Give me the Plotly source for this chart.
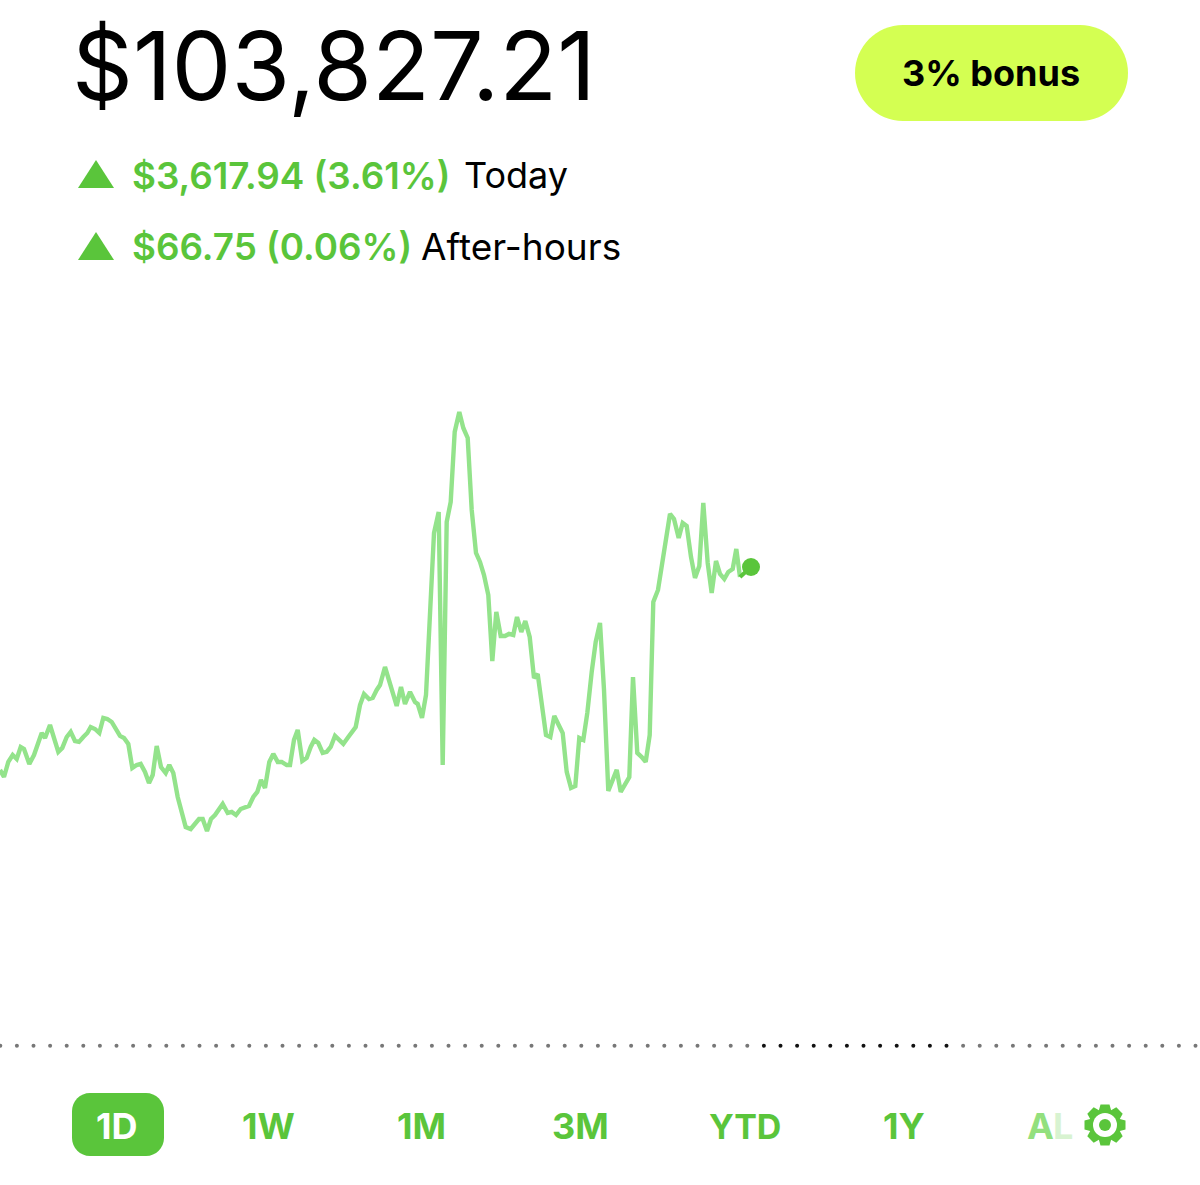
import numpy as np
import plotly.graph_objects as go

# portfolio value over the day
minute = [0,4,8.3,12.7,16.7,20.7,24,29.3,34,41.7,45,50,58.3,62.3,66.7,70.7,75,79,83.3,87.3,90.7,95,99.3,103.3,107.3,111.7,
          120,124,128.3,132.3,136.7,140.7,145,149,152.7,156.7,161,165.7,169.3,173.3,177.7,185.7,190.7,199,202.7,207,211,215,
          222.7,227.7,231.7,236,240.7,245,249,253.3,257.3,261,265,269.3,273.3,277.7,281.7,286.7,290,294,297.7,302.3,306.7,
          310.7,314.3,318.3,322.7,326.7,330.7,335,343.3,348.3,355.7,360,364,369,372.7,376.7,380,385,
          388.7,396.7,401,405,410,415,417.7,422,426,430,434,438.7,442.7,446.7,450.7,454.7,459.3,463.3,467.7,471.7,476,480,484,
          488.3,492.3,496.3,500.7,505,509,513.3,517,521.3,525.3,529.7,534,537.7,546,550.3,554.3,558.7,562.7,566.7,571,575.3,
          579.3,583.3,587.3,591.7,595.7,600,604,608.3,612.3,616.7,620.7,625,629.3,633,637.3,641.7,645.7,649.7,653.3,658,662,
          666,670,674,678.7,682.7,686.7,691,695,699.3,703.3,707.7,711.7,716,720,724.3,728.3,732.7,736.3,740]
balance = [102305,102252,102365,102417,102387,102477,102462,102350,102417,102582,102545,102642,102440,102470,102552,102590,
           102522,102515,102552,102582,102627,102612,102582,102695,102687,102665,102560,102545,102500,102320,102342,102350,
           102290,102207,102267,102485,102327,102282,102342,102282,102102,101877,101862,101937,101937,101847,101937,101967,
           102050,101982,101990,101967,102012,102020,102035,102102,102140,102230,102170,102365,102425,102365,102365,102342,
           102342,102530,102605,102372,102395,102477,102530,102507,102432,102440,102477,102560,102500,102552,102627,102792,
           102875,102837,102845,102905,102942,103077,
           102980,102785,102927,102800,102890,102815,102800,102695,102867,103430,104082,104240,102342,104165,104315,104840,
           104990,104870,104795,104255,103932,103865,103767,103617,103122,103490,103310,103310,103325,103317,103452,103340,
           103422,103302,102995,103025,102567,102552,102710,102642,102582,102290,102170,102185,102545,102530,102732,103040,
           103265,103407,102905,102147,102230,102305,102140,102192,102252,103002,102432,102402,102365,102567,103565,103655,
           103857,104015,104225,104187,104045,104157,104135,103902,103745,103835,104307,103857,103632,103872,103775,103737,
           103790,103812,103962,103752]
last_minute = 751
last_balance = 103827
prev_close = 100236

ranges = ["1D","1W","1M","3M","YTD","1Y"]
range_x = [117,268,421,580,745,904]
range_size = [36,36,36,36,34,36]

GREEN = "#5AC53B"
LINE = "#93E38B"
FONT = "Inter"

fig = go.Figure()
fig.add_trace(go.Scatter(x=minute, y=balance, mode="lines", line=dict(color=LINE, width=4.4), hoverinfo="skip"))
fig.add_trace(go.Scatter(x=[minute[-1], last_minute], y=[balance[-1], last_balance], mode="lines",
                         line=dict(color=GREEN, width=4), hoverinfo="skip"))
fig.add_trace(go.Scatter(x=[last_minute], y=[last_balance], mode="markers",
                         marker=dict(color=GREEN, size=18, opacity=1), hoverinfo="skip"))

# dotted previous close line, the stretch after hours is darker
dots = np.arange(0.3, 1200, 16.6)
dot_colors = ["#111111" if 760 < d < 950 else "#777777" for d in dots]
fig.add_trace(go.Scatter(x=dots, y=[prev_close]*len(dots), mode="markers",
                         marker=dict(color=dot_colors, size=4), hoverinfo="skip"))

def rounded(x0, y0, x1, y1, r):
    c = r*0.45  # control point offset for a round corner
    return (f"M{x0+r},{y0} L{x1-r},{y0} C{x1-c},{y0} {x1},{y0+c} {x1},{y0+r} L{x1},{y1-r} C{x1},{y1-c} {x1-c},{y1} {x1-r},{y1} "
            f"L{x0+r},{y1} C{x0+c},{y1} {x0},{y1-c} {x0},{y1-r} L{x0},{y0+r} C{x0},{y0+c} {x0+c},{y0} {x0+r},{y0} Z")

def gear(cx, cy, ro, ri, n=8):
    pts = []
    for i in range(n):
        a = 2*np.pi*i/n
        w = np.pi/n
        for da, r in [(-w*1.0, ri), (-w*0.55, ro), (w*0.55, ro), (w*1.0, ri)]:
            pts.append((cx+r*np.sin(a+da), cy-r*np.cos(a+da)))
    return "M" + " L".join(f"{x:.1f},{y:.1f}" for x, y in pts) + " Z"

def ui_shape(kind, color, **kw):
    return dict(type=kind, xref="x2", yref="y2", fillcolor=color, line=dict(width=0), layer="above", **kw)

shapes = [
    ui_shape("path", "#D4FF52", path=rounded(855,25,1128,121,48)),
    ui_shape("path", GREEN, path="M78,188 L114,188 L96,160 Z"),
    ui_shape("path", GREEN, path="M78,260 L114,260 L96,232 Z"),
    ui_shape("path", GREEN, path=rounded(72,1093,164,1156,18)),
    ui_shape("path", GREEN, path=gear(1105,1125,21,16)),
    ui_shape("circle", "white", x0=1093,y0=1113,x1=1117,y1=1137),
    ui_shape("circle", GREEN, x0=1099,y0=1119,x1=1111,y1=1131),
]

def label(text, x, y, size, color="black", weight=400, anchor="left"):
    return dict(text=text, x=x, y=y, xref="x2", yref="y2", xanchor=anchor, yanchor="middle", showarrow=False,
                font=dict(family=FONT, size=size, color=color, weight=weight))

annotations = [
    label("$103,827.21", 70, 65, 95),
    label("3% bonus", 991, 73, 36, weight=700, anchor="center"),
    label("$3,617.94 (3.61%)", 130, 175, 36.8, GREEN, 600),
    label("Today", 462, 175, 36),
    label("$66.75 (0.06%)", 130, 246, 36.8, GREEN, 600),
    label("After-hours", 419, 246, 37),
    label("A", 1025, 1126, 36, "#93E07E", 700),
    label("L", 1051, 1126, 36, "#D8F3D1", 700),
]
for r, rx, rs in zip(ranges, range_x, range_size):
    annotations.append(label(r, rx, 1126, rs, "white" if r == "1D" else GREEN, 700, "center"))

hidden = dict(visible=False, fixedrange=True)
fig.update_layout(width=1200, height=1185, margin=dict(l=0,r=0,t=0,b=0), showlegend=False,
                  paper_bgcolor="white", plot_bgcolor="white",
                  xaxis=dict(range=[0,1200], **hidden), yaxis=dict(range=[99192,108079.5], **hidden),
                  xaxis2=dict(range=[0,1200], overlaying="x", **hidden),
                  yaxis2=dict(range=[1185,0], overlaying="y", **hidden),
                  shapes=shapes, annotations=annotations)
fig.write_html("out.html", post_script="document.body.style.margin='0';", config=dict(displayModeBar=False))
